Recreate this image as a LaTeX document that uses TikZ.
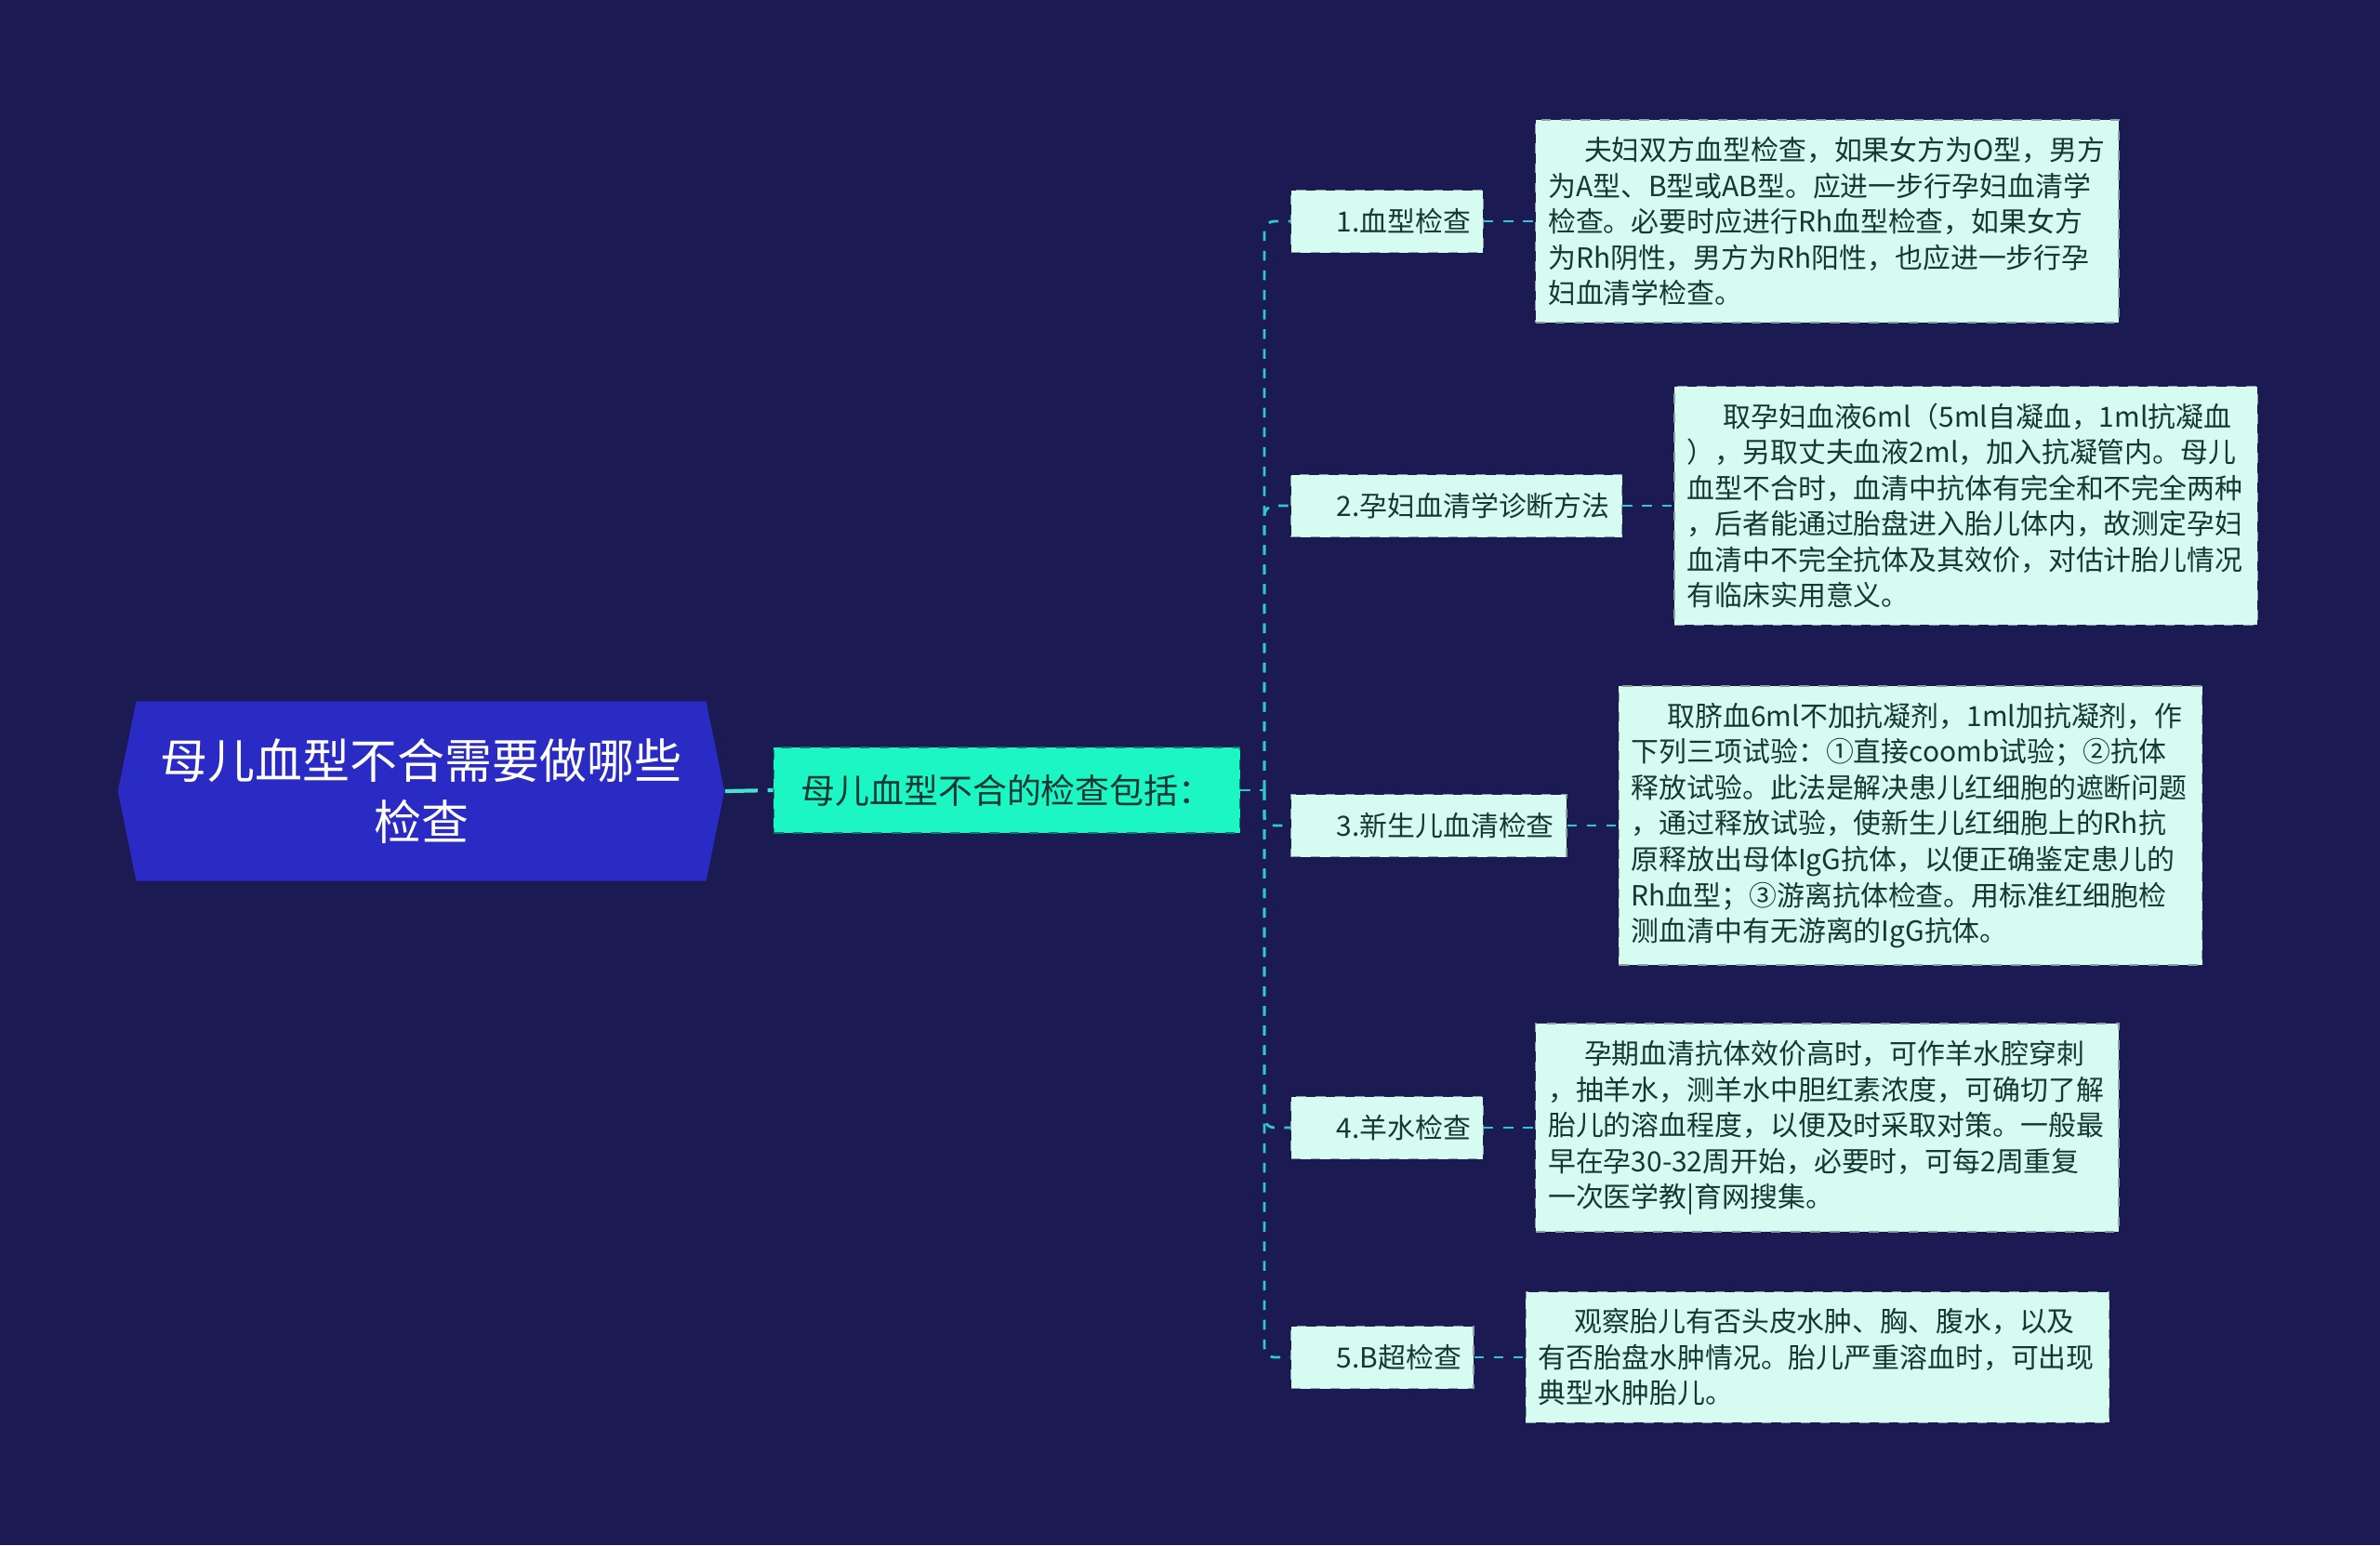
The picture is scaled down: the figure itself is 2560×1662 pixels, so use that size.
\documentclass[tikz,border=0pt]{standalone}
\usepackage{fontspec}
\setmainfont{Noto Sans CJK SC}
\usetikzlibrary{positioning,shapes.symbols}
\definecolor{bgnavy}{RGB}{27,26,83}
\definecolor{rootblue}{RGB}{42,42,196}
\definecolor{hubteal}{RGB}{28,245,196}
\definecolor{hubline}{RGB}{20,120,100}
\definecolor{mint}{RGB}{214,251,240}
\definecolor{mintline}{RGB}{140,160,160}
\definecolor{inkgreen}{RGB}{22,56,50}
\definecolor{linkcyan}{RGB}{45,200,212}
\definecolor{linkteal}{RGB}{70,225,205}
\tikzset{
  topic/.style={signal,signal to=east and west,signal pointer angle=157,
                fill=rootblue,text=white,align=center,
                minimum width=6.52cm,minimum height=1.93cm,
                font=\fontsize{14.5pt}{19pt}\selectfont},
  hub/.style={rectangle,draw=hubline,dashed,fill=hubteal,text=inkgreen,
              minimum width=5.01cm,minimum height=0.92cm,
              font=\fontsize{10.5pt}{13pt}\selectfont},
  item/.style={rectangle,anchor=west,draw=mintline,dashed,fill=mint,
               text=inkgreen,minimum height=0.67cm,inner xsep=0.13cm,
               font=\fontsize{8.5pt}{11pt}\selectfont,
               execute at begin node=\hspace*{0.36cm}},
  note/.style={rectangle,draw=mintline,dashed,fill=mint,text=inkgreen,
               text width=6.0cm,align=left,inner xsep=0.135cm,inner ysep=0.18cm,
               font=\fontsize{8.5pt}{10.96pt}\selectfont},
  link/.style={linkcyan,dashed,thick},
  rootlink/.style={linkteal,line width=1.2pt,dash pattern=on 10pt off 3pt},
}
\newcommand{\ind}{\hspace*{1.3em}}
\begin{document}
\begin{tikzpicture}[x=0.01cm,y=-0.01cm]
  \fill[bgnavy] (0,0) rectangle (2560,1662);
  \useasboundingbox (0,0) rectangle (2560,1662);

  \node[topic] (root) at (453,851) {母儿血型不合需要做哪些\\检查};
  \node[hub] (hub) at (1083,850) {母儿血型不合的检查包括：};
  \coordinate (trunk) at (1360,850);

  \node[item] (c1) at (1388,238)  {1.血型检查};
  \node[item] (c2) at (1388,544)  {2.孕妇血清学诊断方法};
  \node[item] (c3) at (1388,888)  {3.新生儿血清检查};
  \node[item] (c4) at (1388,1213) {4.羊水检查};
  \node[item] (c5) at (1388,1460) {5.B超检查};

  \node[note,right=0.55cm of c1] (n1) {\ind 夫妇双方血型检查，如果女方为O型，男方\\
    为A型、B型或AB型。应进一步行孕妇血清学\\
    检查。必要时应进行Rh血型检查，如果女方\\
    为Rh阴性，男方为Rh阳性，也应进一步行孕\\
    妇血清学检查。};
  \node[note,right=0.55cm of c2] (n2) {\ind 取孕妇血液6ml（5ml自凝血，1ml抗凝血\\
    ），另取丈夫血液2ml，加入抗凝管内。母儿\\
    血型不合时，血清中抗体有完全和不完全两种\\
    ，后者能通过胎盘进入胎儿体内，故测定孕妇\\
    血清中不完全抗体及其效价，对估计胎儿情况\\
    有临床实用意义。};
  \node[note,right=0.55cm of c3] (n3) {\ind 取脐血6ml不加抗凝剂，1ml加抗凝剂，作\\
    下列三项试验：①直接coomb试验；②抗体\\
    释放试验。此法是解决患儿红细胞的遮断问题\\
    ，通过释放试验，使新生儿红细胞上的Rh抗\\
    原释放出母体IgG抗体，以便正确鉴定患儿的\\
    Rh血型；③游离抗体检查。用标准红细胞检\\
    测血清中有无游离的IgG抗体。};
  \node[note,right=0.55cm of c4] (n4) {\ind 孕期血清抗体效价高时，可作羊水腔穿刺\\
    ，抽羊水，测羊水中胆红素浓度，可确切了解\\
    胎儿的溶血程度，以便及时采取对策。一般最\\
    早在孕30-32周开始，必要时，可每2周重复\\
    一次医学教|育网搜集。};
  \node[note,right=0.55cm of c5] (n5) {\ind 观察胎儿有否头皮水肿、胸、腹水，以及\\
    有否胎盘水肿情况。胎儿严重溶血时，可出现\\
    典型水肿胎儿。};

  \draw[rootlink] (root.east) -- (hub.west);
  \draw[link] (hub.east) -- (trunk);
  \foreach \c/\n in {c1/n1,c2/n2,c3/n3,c4/n4,c5/n5}{
    \draw[link,rounded corners=3pt] (trunk) |- (\c.west);
    \draw[link] (\c.east) -- (\n.west);
  }
\end{tikzpicture}
\end{document}
